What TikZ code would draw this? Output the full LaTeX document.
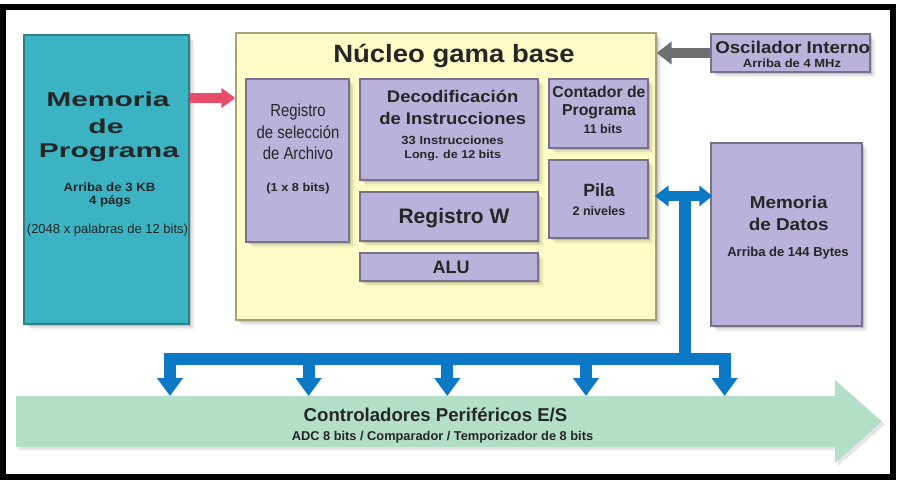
\documentclass[tikz,border=0pt]{standalone}
\usepackage{fontspec}
\setmainfont{Liberation Sans}
\newfontfamily\fW[FakeStretch=1.5]{Liberation Sans}
\newfontfamily\fS[FakeStretch=1.1]{Liberation Sans}
\newfontfamily\fN[FakeStretch=0.85]{Liberation Sans}
\usetikzlibrary{arrows.meta,shadows}
\definecolor{teal1}{HTML}{3BB3C3}
\definecolor{tealb}{HTML}{2F7F8A}
\definecolor{lav}{HTML}{BAB2DA}
\definecolor{lavb}{HTML}{77728A}
\definecolor{yel}{HTML}{FFFCC8}
\definecolor{yelb}{HTML}{A8A27A}
\definecolor{grn}{HTML}{B3DFC9}
\definecolor{busblue}{HTML}{0A78C4}
\definecolor{pinkc}{HTML}{E74C6B}
\definecolor{grayarr}{HTML}{6F6F6F}
\definecolor{txtc}{HTML}{262626}
\newcommand\myfs[1]{\fontsize{#1}{#1}\selectfont}
\tikzset{
  shd/.style={drop shadow={shadow xshift=1.5pt,shadow yshift=-1.5pt,opacity=0.14,fill=black},
              drop shadow={shadow xshift=3.5pt,shadow yshift=-3.5pt,opacity=0.08,fill=black},
              drop shadow={shadow xshift=6pt,shadow yshift=-6pt,opacity=0.04,fill=black}},
  box/.style={draw=lavb,fill=lav,line width=1.2pt,inner sep=0pt,shd},
  txt/.style={anchor=base,inner sep=0pt,text=txtc},
  busline/.style={draw=busblue,line width=12pt},
}
\begin{document}
\begin{tikzpicture}[x=1pt,y=-1pt]
\useasboundingbox (0,0) rectangle (898,482);
\fill[white] (0,0) rectangle (898,482);

% boxes
\node[box,draw=tealb,fill=teal1,minimum width=165pt,minimum height=289pt] (memprog) at (106.5,179.5) {};
\node[box,draw=yelb,fill=yel,minimum width=420pt,minimum height=287pt] (nucleo) at (446,176.5) {};
\node[box,minimum width=103pt,minimum height=163pt] (regsel) at (297.5,160.5) {};
\node[box,minimum width=178pt,minimum height=101pt] (decod) at (449,129.5) {};
\node[box,minimum width=178pt,minimum height=49pt] (regw) at (449,216.5) {};
\node[box,minimum width=178pt,minimum height=28pt] (alu) at (449,267) {};
\node[box,minimum width=99pt,minimum height=69pt] (contador) at (598.5,113.5) {};
\node[box,minimum width=99pt,minimum height=78pt] (pila) at (598.5,199) {};
\node[box,minimum width=159pt,minimum height=38pt] (osc) at (790.5,53) {};
\node[box,minimum width=151pt,minimum height=183pt] (datos) at (786.5,234.5) {};

% peripheral arrow
\fill[black,opacity=0.10] ([shift={(3pt,-3pt)}]16,396) -- ++(819,0) -- ++(0,-16) -- ++(47,41.5) -- ++(-47,41.5) -- ++(0,-16) -- ++(-819,0) -- cycle;
\fill[grn] (16,396) -- (835,396) -- (835,380) -- (882,421.5) -- (835,463) -- (835,447) -- (16,447) -- cycle;

% texts
\node[txt,font=\fW\bfseries\myfs{20}] (mp1) at (108,106) {Memoria};
\node[txt,font=\fW\bfseries\myfs{20}] (mp2) at (106,133) {de};
\node[txt,font=\fW\bfseries\myfs{20}] (mp3) at (109,157) {Programa};
\node[txt,font=\fS\bfseries\myfs{12}] (mp4) at (109.5,191) {Arriba de 3 KB};
\node[txt,font=\fS\bfseries\myfs{12}] (mp5) at (110,204) {4 págs};
\node[txt,font=\myfs{13}] (mp6) at (107.5,233) {(2048 x palabras de 12 bits)};

\node[txt,font=\fS\bfseries\myfs{25}] (tnuc) at (454,62) {Núcleo gama base};

\node[txt,font=\fN\myfs{17.5}] (rs1) at (298,116.7) {Registro};
\node[txt,font=\fN\myfs{17.5}] (rs2) at (298,138.3) {de selección};
\node[txt,font=\fN\myfs{17.5}] (rs3) at (298,159.3) {de Archivo};
\node[txt,font=\fS\bfseries\myfs{11.6}] (rs4) at (298,191) {(1 x 8 bits)};

\node[txt,font=\fS\bfseries\myfs{16.8}] (dc1) at (452.7,102.7) {Decodificación};
\node[txt,font=\fS\bfseries\myfs{16.8}] (dc2) at (452.7,124.5) {de Instrucciones};
\node[txt,font=\fS\bfseries\myfs{11.8}] (dc3) at (452.7,144) {33 Instrucciones};
\node[txt,font=\fS\bfseries\myfs{11.4}] (dc4) at (452.7,158.3) {Long. de 12 bits};

\node[txt,font=\bfseries\myfs{21}] (rw) at (454,223.3) {Registro W};
\node[txt,font=\bfseries\myfs{18}] (alut) at (451,273.3) {ALU};

\node[txt,font=\bfseries\myfs{15.8}] (ct1) at (599,97.3) {Contador de};
\node[txt,font=\bfseries\myfs{15.8}] (ct2) at (599,115) {Programa};
\node[txt,font=\bfseries\myfs{12.5}] (ct3) at (603,133.3) {11 bits};

\node[txt,font=\bfseries\myfs{17.7}] (pl1) at (599,196) {Pila};
\node[txt,font=\bfseries\myfs{12.5}] (pl2) at (599,215) {2 niveles};

\node[txt,font=\fS\bfseries\myfs{17}] (os1) at (792.7,53.3) {Oscilador Interno};
\node[txt,font=\fS\bfseries\myfs{11.8}] (os2) at (792,67.7) {Arriba de 4 MHz};

\node[txt,font=\fS\bfseries\myfs{17.2}] (dt1) at (788.7,208.3) {Memoria};
\node[txt,font=\fS\bfseries\myfs{17.2}] (dt2) at (788.7,230) {de Datos};
\node[txt,font=\bfseries\myfs{13}] (dt3) at (788,256) {Arriba de 144 Bytes};

\node[txt,font=\bfseries\myfs{18.6}] (pf1) at (435.5,421) {Controladores Periféricos E/S};
\node[txt,font=\bfseries\myfs{12.8}] (pf2) at (442.5,440) {ADC 8 bits / Comparador / Temporizador de 8 bits};

% connectors
\coordinate (pk) at (189,98);
\draw[pinkc,line width=10pt,-{Triangle[length=14pt,width=19pt]}] (memprog.east |- pk) -- (nucleo.west |- pk);
\draw[grayarr,line width=10pt,-{Triangle[length=15pt,width=22pt]}] (osc.west) -- (osc.west -| nucleo.east);

\coordinate (tj) at (684.5,196);
\coordinate (bj) at (684.5,359);
\coordinate (d1) at (170,359);
\coordinate (d2) at (308.6,359);
\coordinate (d3) at (447.3,359);
\coordinate (d4) at (586,359);
\coordinate (d5) at (724.6,359);
\coordinate (t1) at (170,396);
\coordinate (t2) at (308.6,396);
\coordinate (t3) at (447.3,396);
\coordinate (t4) at (586,396);
\coordinate (t5) at (724.6,396);
\draw[busline] (tj) -- (bj);
\draw[busline,line cap=rect] (d1) -- (d5);
\foreach \i in {1,...,5}{
  \draw[busline,-{Triangle[length=18pt,width=25pt]}] (d\i) -- (t\i);
}
\draw[busline,line width=10pt,{Triangle[length=14pt,width=20pt]}-{Triangle[length=13pt,width=20pt]},shorten <=-2pt,shorten >=-2pt] (tj -| nucleo.east) -- (tj -| datos.west);

% frame
\draw[black,line width=6.5pt] (3,7) rectangle (893,477);
\end{tikzpicture}
\end{document}
